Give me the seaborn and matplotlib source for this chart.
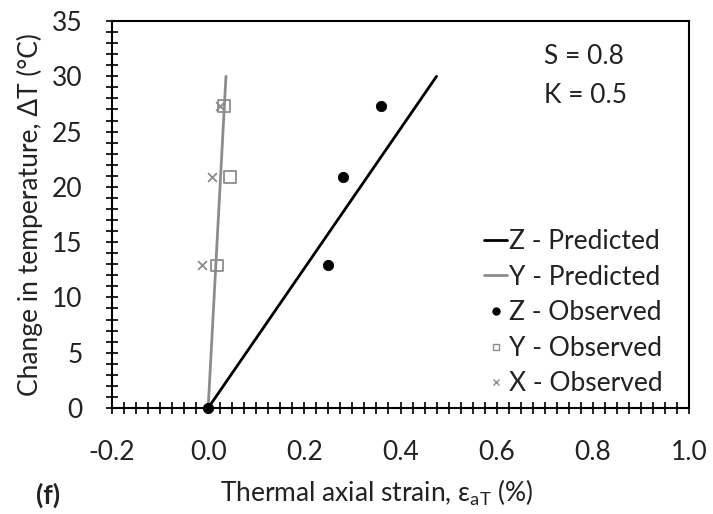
import numpy as np
import pandas as pd
import matplotlib
matplotlib.use("Agg")
import matplotlib.pyplot as plt
from matplotlib.ticker import MultipleLocator, FormatStrFormatter
from matplotlib.lines import Line2D
import seaborn as sns

# Temperature change levels (°C)
delta_t = [0, 12.9, 20.9, 27.3]
delta_t_xy = [12.9, 20.9, 27.3]

# Observed thermal axial strains (%)
z_observed = [0.0, 0.249, 0.280, 0.360]
y_observed = [0.019, 0.046, 0.033]
x_observed = [-0.013, 0.008, 0.025]

# Predicted strain lines (%), for 0 and 30 °C
pred_t = [0, 30]
z_predicted = [0.0, 0.475]
y_predicted = [0.0, 0.037]

GREY = "#8c8c8c"
TXT = "#222222"
FS = 19

sns.set_theme(style="ticks")
plt.rcParams["font.family"] = ["Lato", "DejaVu Sans"]

fig = plt.figure(figsize=(7.13, 5.14), dpi=100)
ax = fig.add_axes([112 / 713, 1 - 408 / 514, 577 / 713, 387 / 514])

pred = pd.DataFrame({"strain": z_predicted + y_predicted,
                     "dt": pred_t + pred_t,
                     "series": ["Z - Predicted"] * 2 + ["Y - Predicted"] * 2})
sns.lineplot(data=pred, x="strain", y="dt", hue="series",
             palette={"Z - Predicted": "black", "Y - Predicted": GREY},
             linewidth=2, ax=ax, legend=False, sort=False)

sns.scatterplot(x=y_observed, y=delta_t_xy, marker="s", s=70, facecolor="none",
                edgecolor=GREY, linewidth=1.3, ax=ax, zorder=3)
sns.scatterplot(x=x_observed, y=delta_t_xy, marker="x", s=40, color=GREY,
                linewidth=1.3, ax=ax, zorder=3)
sns.scatterplot(x=z_observed, y=delta_t, color="black", marker="o", s=55,
                edgecolor="black", ax=ax, zorder=4, clip_on=False)

ax.set_xlim(-0.2, 1.0)
ax.set_ylim(0, 35)
ax.xaxis.set_major_locator(MultipleLocator(0.2))
ax.xaxis.set_minor_locator(MultipleLocator(0.025))
ax.yaxis.set_major_locator(MultipleLocator(5))
ax.yaxis.set_minor_locator(MultipleLocator(1))
ax.xaxis.set_major_formatter(FormatStrFormatter("%.1f"))
ax.tick_params(axis="both", which="both", direction="inout", length=8,
               width=1.2, color="black", labelsize=FS, labelcolor=TXT)
ax.tick_params(axis="x", which="major", pad=19)
ax.tick_params(axis="y", which="major", pad=17)
for sp in ax.spines.values():
    sp.set_color("black")
    sp.set_linewidth(1.5)

ax.set_xlabel("Thermal axial strain, ε$_{\\mathregular{aT}}$ (%)",
              fontsize=FS, color=TXT)
ax.xaxis.label.set_va("center")
ax.xaxis.set_label_coords(0.459, -0.22)
ax.set_ylabel("Change in temperature, ΔT (°C)", fontsize=FS, color=TXT)
ax.yaxis.label.set_va("center")
ax.yaxis.set_label_coords(-0.142, 0.5)

ax.text(0.698, 31.8, "S = 0.8", fontsize=FS, ha="left", va="center", color=TXT)
ax.text(0.698, 28.3, "K = 0.5", fontsize=FS, ha="left", va="center", color=TXT)
fig.text(48 / 713, 1 - 495 / 514, "(f)", fontsize=FS, fontweight="bold",
         ha="center", va="center", color=TXT)

handles = [
    Line2D([], [], color="black", lw=2),
    Line2D([], [], color=GREY, lw=2),
    Line2D([], [], color="black", marker="o", ls="none", ms=5),
    Line2D([], [], color=GREY, marker="s", ls="none", ms=5, mfc="none"),
    Line2D([], [], color=GREY, marker="x", ls="none", ms=5),
]
labels = ["Z - Predicted", "Y - Predicted", "Z - Observed", "Y - Observed", "X - Observed"]
ax.legend(handles, labels, loc="lower right", bbox_to_anchor=(0.955, 0.03),
          frameon=False, fontsize=FS, handlelength=0.85, handletextpad=0.1,
          labelspacing=0.4, borderpad=0, borderaxespad=0, labelcolor=TXT)

fig.savefig("out.png", dpi=100)
